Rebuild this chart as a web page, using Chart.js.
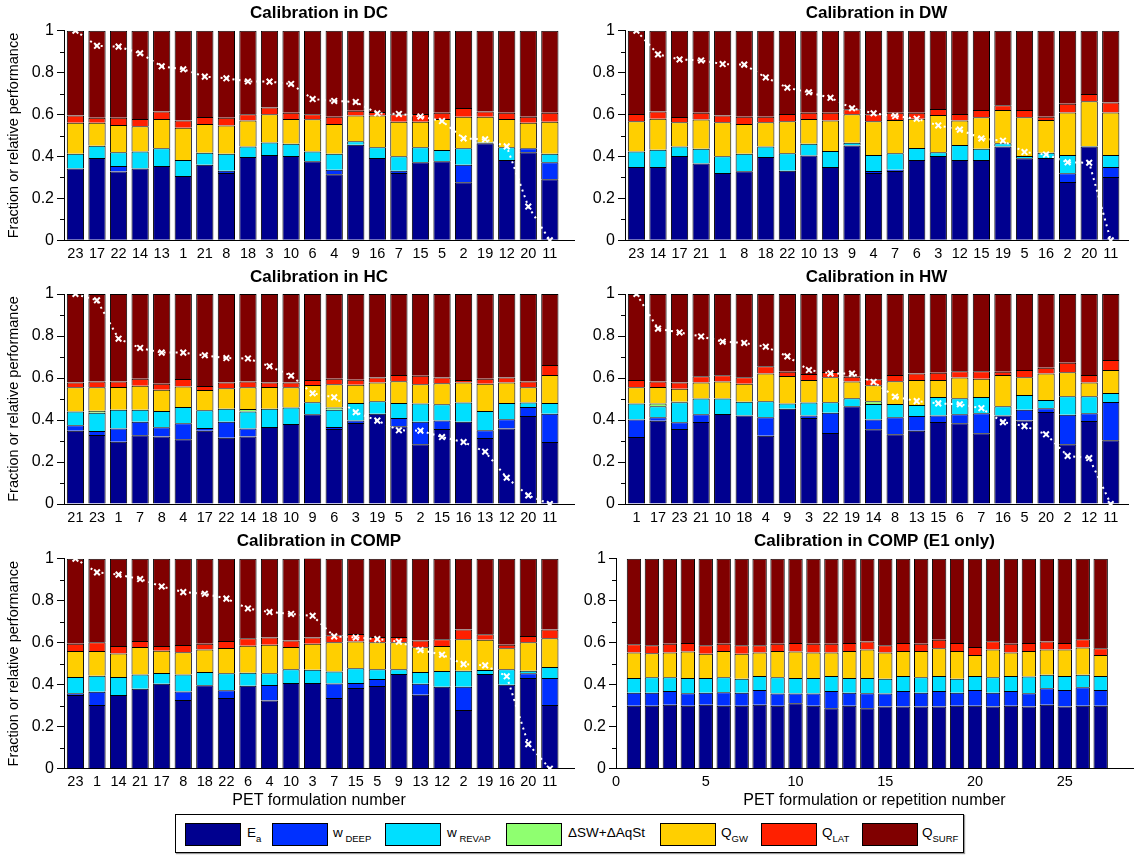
<!DOCTYPE html>
<html>
<head>
<meta charset="utf-8">
<script src="https://cdn.jsdelivr.net/npm/chart.js@4.4.1/dist/chart.umd.min.js"></script>
<style>
  html, body { margin: 0; padding: 0; background: #fff; }
  body { position: relative; width: 1134px; height: 861px; overflow: hidden;
         font-family: 'Liberation Sans', Arial, Helvetica, sans-serif; }
  canvas { position: absolute; }
  #legend { position: absolute; left: 175px; top: 814px; width: 787px; height: 37px;
            border: 1px solid #000; background: #fff; box-shadow: 1px 1px 1px #999; }
  #legend .sw { position: absolute; top: 8px; width: 54px; height: 21px; border: 1px solid #000; }
  #legend .lb { position: absolute; top: 8px; font-size: 13.5px; line-height: 20px; color: #000; white-space: nowrap; }
  #legend sub { font-size: 9.5px; vertical-align: -5px; }
</style>
</head>
<body>
<div id="legend"></div>
<script>
// Water-balance components (fraction of precipitation) for each PET formulation,
// ordered by relative model performance in each calibration scenario.

// ---- Calibration in DC ----
const dcLabels = [23,17,22,14,13,1,21,8,18,3,10,6,4,9,16,7,15,5,2,19,12,20,11];
const dcEa    = [.343,.393,.328,.343,.355,.307,.361,.321,.397,.407,.402,.377,.315,.456,.393,.321,.372,.377,.277,.463,.383,.420,.291];
const dcDeep  = [0,0,.027,0,0,0,0,.011,0,0,0,0,.022,0,0,.011,0,0,.084,0,0,.019,.081];
const dcRevap = [.070,.058,.065,.081,.084,.076,.057,.081,.051,.060,.059,.047,.076,.016,.051,.069,.072,.054,.078,.004,.061,0,.041];
const dcStore = [0,0,0,0,0,0,0,0,0,0,0,0,0,0,0,0,0,0,0,0,0,0,0];
const dcGw    = [.148,.110,.130,.120,.140,.154,.137,.135,.124,.134,.118,.153,.142,.123,.151,.165,.122,.148,.151,.123,.135,.122,.153];
const dcLat   = [.035,.024,.035,.035,.035,.034,.033,.037,.029,.033,.030,.024,.035,.023,.017,.035,.037,.030,.041,.025,.030,.029,.043];
const dcSurf  = [.404,.415,.415,.421,.386,.429,.412,.415,.399,.366,.391,.399,.410,.382,.388,.399,.397,.391,.369,.385,.391,.410,.391];
const dcPerf  = [1,.928,.924,.892,.830,.816,.781,.773,.758,.757,.746,.674,.665,.660,.606,.603,.591,.569,.486,.482,.448,.161,0];

// ---- Calibration in DW ----
const dwLabels = [23,14,17,21,1,8,18,22,10,13,9,4,7,6,3,12,15,19,5,16,2,20,11];
const dwEa    = [.350,.350,.402,.367,.321,.329,.397,.332,.404,.350,.452,.321,.331,.383,.402,.383,.383,.447,.391,.393,.278,.447,.302];
const dwDeep  = [0,0,0,0,0,0,0,0,0,0,0,.010,.006,0,0,0,0,0,0,0,.042,0,.048];
const dwRevap = [.074,.082,.045,.070,.080,.084,.051,.083,.057,.076,.014,.076,.078,.057,.018,.072,.054,.016,.011,.025,.087,.003,.057];
const dwStore = [0,0,0,0,0,0,0,0,0,0,0,0,0,0,0,0,0,0,0,0,0,0,0];
const dwGw    = [.144,.148,.116,.139,.162,.142,.115,.153,.118,.146,.135,.161,.159,.140,.178,.116,.150,.159,.185,.156,.203,.213,.203];
const dwLat   = [.035,.034,.025,.033,.033,.035,.027,.035,.030,.037,.024,.033,.035,.029,.028,.032,.035,.022,.035,.016,.042,.035,.048];
const dwSurf  = [.397,.386,.412,.391,.404,.410,.410,.397,.391,.391,.375,.399,.391,.391,.374,.397,.378,.356,.378,.410,.348,.302,.342];
const dwPerf  = [1,.887,.863,.858,.841,.838,.777,.728,.706,.680,.630,.606,.593,.580,.548,.528,.486,.475,.421,.409,.372,.370,0];

// ---- Calibration in HC ----
const hcLabels = [21,23,1,7,8,4,17,22,14,18,10,9,6,3,19,5,2,15,16,13,12,20,11];
const hcEa    = [.349,.329,.297,.327,.321,.308,.349,.316,.321,.367,.381,.427,.357,.386,.430,.370,.284,.357,.392,.314,.360,.419,.295];
const hcDeep  = [.026,.019,.063,.065,.044,.076,.013,.076,.038,0,0,0,.010,.012,0,.040,.108,.041,0,.037,.043,.043,.135];
const hcRevap = [.066,.087,.089,.057,.078,.078,.084,.062,.082,.087,.079,.057,.082,.083,.059,.071,.087,.077,.091,.092,.078,.021,.051];
const hcStore = [0,.009,0,0,0,0,0,0,.011,0,0,0,.010,0,0,0,0,0,0,0,0,0,0];
const hcGw    = [.115,.112,.108,.114,.101,.098,.097,.097,.104,.103,.096,.083,.111,.087,.090,.103,.091,.100,.096,.130,.098,.073,.133];
const hcLat   = [.023,.027,.026,.034,.029,.035,.019,.028,.027,.022,.022,.023,.027,.024,.023,.030,.041,.027,.011,.024,.023,.027,.048];
const hcSurf  = [.421,.417,.417,.403,.427,.405,.438,.421,.417,.421,.422,.410,.403,.408,.398,.386,.389,.398,.410,.403,.398,.417,.338];
const hcPerf  = [1,.970,.787,.743,.721,.721,.708,.695,.693,.656,.611,.527,.508,.437,.397,.351,.349,.319,.295,.249,.125,.041,0];

// ---- Calibration in HW ----
const hwLabels = [1,17,23,21,10,18,4,9,3,22,19,14,8,13,15,6,7,16,5,20,2,12,11];
const hwEa    = [.319,.397,.357,.390,.429,.421,.325,.454,.410,.338,.465,.356,.332,.349,.390,.384,.337,.421,.398,.438,.284,.395,.303];
const hwDeep  = [.083,.016,.032,.037,0,0,.088,0,.012,.097,0,.046,.081,.070,.031,.043,.095,0,.051,.018,.141,.037,.183];
const hwRevap = [.077,.052,.095,.075,.073,.066,.076,.025,.061,.049,.038,.074,.063,.052,.089,.076,.078,.044,.070,.039,.088,.081,.043];
const hwStore = [0,.014,.003,0,0,0,0,0,0,0,0,.013,0,0,0,0,0,0,0,0,0,0,0];
const hwGw    = [.077,.078,.062,.077,.081,.086,.132,.131,.107,.119,.080,.076,.108,.119,.080,.099,.087,.149,.084,.127,.114,.066,.109];
const hwLat   = [.034,.026,.030,.029,.030,.030,.035,.020,.029,.026,.023,.029,.030,.031,.035,.030,.035,.016,.035,.027,.046,.035,.048];
const hwSurf  = [.410,.417,.421,.392,.387,.397,.344,.370,.381,.371,.394,.406,.386,.379,.375,.368,.368,.370,.362,.351,.327,.386,.314];
const hwPerf  = [1,.835,.817,.798,.773,.767,.749,.703,.638,.622,.621,.581,.511,.490,.479,.475,.456,.390,.371,.332,.229,.219,0];

// ---- Calibration in COMP ----
const cpLabels = [23,1,14,21,17,8,18,22,6,4,10,3,7,15,5,9,13,12,2,19,16,20,11];
const cpEa    = [.351,.303,.351,.381,.405,.327,.397,.337,.395,.325,.408,.408,.337,.384,.394,.451,.352,.390,.279,.451,.400,.432,.303];
const cpDeep  = [.008,.064,0,0,0,.041,0,.036,0,.073,0,0,.069,.024,.033,0,.053,0,.111,0,0,.022,.129];
const cpRevap = [.078,.076,.086,.067,.051,.080,.063,.081,.062,.056,.065,.063,.057,.070,.046,.022,.055,.075,.077,.019,.073,.013,.052];
const cpStore = [0,0,0,0,0,0,0,0,0,0,0,0,0,0,0,0,0,0,0,0,0,0,0];
const cpGw    = [.123,.117,.112,.131,.106,.106,.108,.121,.129,.136,.106,.124,.139,.128,.129,.129,.118,.119,.149,.144,.100,.135,.137];
const cpLat   = [.035,.042,.035,.029,.022,.035,.027,.033,.035,.035,.031,.030,.033,.035,.025,.025,.032,.032,.047,.026,.017,.030,.042];
const cpSurf  = [.405,.398,.416,.392,.416,.411,.405,.392,.379,.375,.390,.378,.365,.359,.373,.373,.390,.384,.337,.360,.410,.368,.337];
const cpPerf  = [1,.935,.924,.903,.868,.841,.833,.810,.763,.746,.737,.728,.630,.625,.617,.605,.565,.543,.498,.492,.440,.117,0];

// ---- Calibration in COMP, E1 only (repetitions 1..27) ----
const e1Ticks = [0,5,10,15,20,25];
const e1Ea    = [.300,.300,.305,.300,.305,.300,.300,.305,.300,.312,.300,.288,.300,.288,.296,.296,.296,.296,.300,.300,.296,.300,.296,.305,.296,.300,.300];
const e1Deep  = [.062,.062,.065,.059,.057,.064,.062,.070,.058,.046,.058,.082,.062,.071,.062,.074,.066,.074,.062,.075,.066,.070,.063,.078,.079,.088,.075];
const e1Revap = [.070,.074,.066,.073,.070,.072,.066,.067,.078,.074,.074,.072,.070,.073,.070,.072,.074,.072,.066,.067,.074,.072,.080,.064,.067,.059,.067];
const e1Store = [0,0,0,0,0,0,0,0,0,0,0,0,0,0,0,0,0,0,0,0,0,0,0,0,0,0,0];
const e1Gw    = [.121,.114,.117,.126,.115,.124,.119,.111,.124,.126,.121,.111,.128,.136,.125,.118,.124,.132,.132,.100,.132,.111,.121,.121,.126,.130,.100];
const e1Lat   = [.040,.038,.042,.041,.041,.035,.041,.035,.035,.041,.042,.042,.039,.038,.035,.039,.035,.040,.039,.038,.039,.042,.039,.038,.031,.040,.032];
const e1Surf  = [.407,.412,.405,.401,.412,.405,.412,.412,.405,.401,.405,.405,.401,.394,.412,.401,.405,.386,.401,.420,.393,.405,.401,.394,.401,.383,.426];

// ---- Component styling (jet colour map, 7 levels) ----
const componentNames  = ['Ea', 'wDEEP', 'wREVAP', 'ΔSW+ΔAqSt', 'QGW', 'QLAT', 'QSURF'];
const componentLegend = ['E<sub>a</sub>', 'w<sub>&nbsp;DEEP</sub>', 'w<sub>&nbsp;REVAP</sub>', 'ΔSW+ΔAqSt',
                         'Q<sub>GW</sub>', 'Q<sub>LAT</sub>', 'Q<sub>SURF</sub>'];
const componentColors = ['#00008F', '#0030FF', '#00DFFF', '#8FFF70', '#FFCF00', '#FF2000', '#800000'];

const FONT = "'Liberation Sans', Arial, Helvetica, sans-serif";
const MINOR_Y = [0.1, 0.3, 0.5, 0.7, 0.9];

// short tick marks between the labelled y ticks
const minorTicks = {
  id: 'minorTicks',
  afterDraw(chart) {
    const ys = chart.scales.y, ctx = chart.ctx;
    ctx.save();
    ctx.strokeStyle = '#000';
    ctx.lineWidth = 1;
    for (const v of MINOR_Y) {
      const py = Math.round(ys.getPixelForValue(v)) + 0.5;
      ctx.beginPath();
      ctx.moveTo(ys.right - 4, py);
      ctx.lineTo(ys.right, py);
      ctx.stroke();
    }
    ctx.restore();
  }
};

function panel(p) {
  const cv = document.createElement('canvas');
  cv.width = p.w; cv.height = p.h;
  cv.style.left = p.x + 'px'; cv.style.top = p.y + 'px';
  document.body.appendChild(cv);

  const n = p.series[0].length;
  const xs = Array.from({length: n}, (_, i) => i + 1);

  const datasets = p.series.map((vals, k) => ({
    type: 'bar',
    label: componentNames[k],
    data: vals.map((v, i) => ({x: xs[i], y: v})),
    backgroundColor: componentColors[k],
    borderColor: '#000',
    borderWidth: 1,
    barPercentage: 0.8,
    categoryPercentage: 1,
    stack: 'water',
    order: 1
  }));
  if (p.perf) {
    datasets.push({
      type: 'line',
      label: 'relative performance',
      data: p.perf.map((v, i) => ({x: xs[i], y: v})),
      borderColor: '#fff',
      borderWidth: 2,
      borderDash: [2, 4],
      pointStyle: 'crossRot',
      pointRadius: 4,
      pointBorderColor: '#fff',
      pointBackgroundColor: '#fff',
      pointBorderWidth: 2,
      fill: false,
      tension: 0,
      clip: false,
      stack: 'perf',
      order: 0
    });
  }

  new Chart(cv, {
    type: 'bar',
    data: {datasets},
    plugins: [minorTicks],
    options: {
      responsive: false,
      animation: false,
      devicePixelRatio: 1,
      events: [],
      layout: {padding: {left: 0, right: p.padR, top: 0, bottom: 0}},
      plugins: {
        legend: {display: false},
        tooltip: {enabled: false},
        title: {
          display: true, text: p.title, fullSize: false, color: '#000',
          font: {family: FONT, size: 17, weight: 'bold'},
          padding: {top: 2.8, bottom: p.titleGap}
        }
      },
      scales: {
        x: {
          type: 'linear', min: p.xmin, max: p.xmax, offset: false,
          grid: {display: true, drawOnChartArea: false, drawTicks: false},
          border: {display: true, color: '#000', width: 1},
          afterBuildTicks: s => { s.ticks = p.tickValues.map(v => ({value: v})); },
          afterFit: s => { s.height = p.xH; },
          ticks: {
            autoSkip: false, maxRotation: 0, padding: 5, color: '#000',
            font: {family: FONT, size: 14.5},
            callback: p.tickLabel
          },
          title: p.xTitle
            ? {display: true, text: p.xTitle, color: '#000', font: {family: FONT, size: 16}, padding: {top: 0, bottom: 2}}
            : {display: false}
        },
        y: {
          stacked: true, min: 0, max: 1,
          grid: {display: true, drawOnChartArea: false, drawTicks: true, tickLength: 7, tickColor: '#000'},
          border: {display: true, color: '#000', width: 1},
          afterFit: s => { s.width = p.yW; },
          ticks: {
            stepSize: 0.2, padding: 3, color: '#000', font: {family: FONT, size: 16},
            callback: v => String(Math.round(v * 10) / 10)
          },
          title: p.yTitle
            ? {display: true, text: p.yTitle, color: '#000', font: {family: FONT, size: 14.5}, padding: {top: 5, bottom: 0}}
            : {display: false}
        }
      }
    }
  });
}

// panel grid: two columns, three rows
const colL = {x: 0,   w: 580, yW: 64, padR: 3, yTitle: 'Fraction or relative performance'};
const colR = {x: 580, w: 554, yW: 45, padR: 1, yTitle: null};
const row1 = {y: 0,   h: 264, titleGap: 7.5, xH: 23.7};
const row2 = {y: 264, h: 264, titleGap: 6.8, xH: 24};
const row3 = {y: 528, h: 284, titleGap: 7.5, xH: 43.3};

const rankTicks = Array.from({length: 23}, (_, i) => i + 1);
const rankLabel = labels => (v => String(labels[Math.round(v) - 1]));

function rankedPanel(col, row, title, labels, series, perf, xTitle) {
  panel(Object.assign({}, col, row, {
    title, series, perf, xTitle: xTitle || null,
    xmin: 0.47, xmax: col === colL ? 24.12 : 23.8,
    tickValues: rankTicks, tickLabel: rankLabel(labels)
  }));
}

rankedPanel(colL, row1, 'Calibration in DC', dcLabels,
  [dcEa, dcDeep, dcRevap, dcStore, dcGw, dcLat, dcSurf], dcPerf);
rankedPanel(colR, row1, 'Calibration in DW', dwLabels,
  [dwEa, dwDeep, dwRevap, dwStore, dwGw, dwLat, dwSurf], dwPerf);
rankedPanel(colL, row2, 'Calibration in HC', hcLabels,
  [hcEa, hcDeep, hcRevap, hcStore, hcGw, hcLat, hcSurf], hcPerf);
rankedPanel(colR, row2, 'Calibration in HW', hwLabels,
  [hwEa, hwDeep, hwRevap, hwStore, hwGw, hwLat, hwSurf], hwPerf);
rankedPanel(colL, row3, 'Calibration in COMP', cpLabels,
  [cpEa, cpDeep, cpRevap, cpStore, cpGw, cpLat, cpSurf], cpPerf, 'PET formulation number');

panel(Object.assign({}, colR, row3, {
  yW: 36,
  title: 'Calibration in COMP (E1 only)',
  series: [e1Ea, e1Deep, e1Revap, e1Store, e1Gw, e1Lat, e1Surf],
  perf: null,
  xTitle: 'PET formulation or repetition number',
  xmin: 0, xmax: 28.8,
  tickValues: e1Ticks, tickLabel: v => String(v)
}));

// legend strip
const legend = document.getElementById('legend');
const swatchX = [9, 96, 209, 330, 484, 585, 686];
const labelX  = [71, 157, 271, 392, 545, 646, 746];
componentLegend.forEach((html, k) => {
  const sw = document.createElement('div');
  sw.className = 'sw';
  sw.style.left = swatchX[k] + 'px';
  sw.style.background = componentColors[k];
  legend.appendChild(sw);
  const lb = document.createElement('div');
  lb.className = 'lb';
  lb.style.left = labelX[k] + 'px';
  lb.innerHTML = html;
  legend.appendChild(lb);
});
</script>
</body>
</html>
